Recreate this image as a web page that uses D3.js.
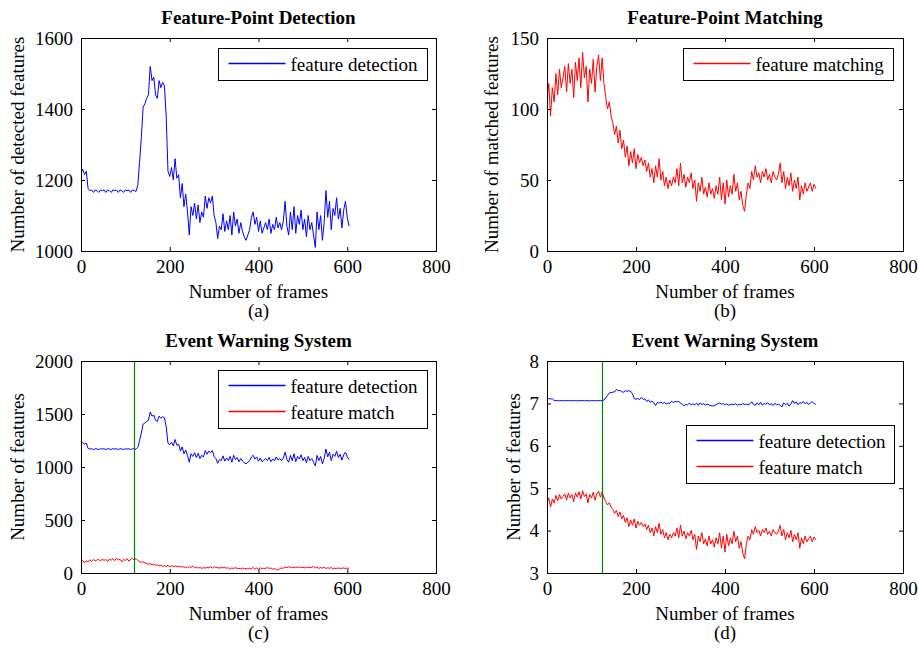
<!DOCTYPE html>
<html>
<head>
<meta charset="utf-8">
<script src="https://cdn.jsdelivr.net/npm/d3@7"></script>
<style>
  html, body { margin: 0; padding: 0; background: #fff; }
  svg text { font-family: "Liberation Serif", "DejaVu Serif", "Times New Roman", Times, serif; fill: #000; }
</style>
</head>
<body>
<svg id="chart" width="918" height="648"></svg>
<script>
// ---------------- data ----------------
const frameStep = 4; // one value every 4 frames, starting at frame 0
const detection = [
  1220,1230,1215,1225,1175,1170,1172,1165,1172,1170,1165,1172,1170,1172,1165,1172,
  1170,1165,1172,1170,1172,1165,1172,1170,1165,1172,1170,1172,1165,1172,1170,1168,
  1185,1250,1320,1405,1415,1430,1440,1520,1480,1490,1440,1430,1480,1460,1475,1465,
  1380,1225,1210,1235,1200,1260,1205,1215,1150,1190,1125,1160,1110,1045,1125,1100,
  1135,1090,1130,1080,1110,1095,1155,1120,1150,1135,1155,1100,1080,1035,1070,1060,
  1105,1055,1085,1060,1100,1045,1110,1070,1090,1050,1080,1055,1040,1030,1045,1060,
  1095,1110,1075,1095,1055,1085,1050,1065,1080,1060,1090,1050,1075,1060,1095,1065,
  1080,1060,1085,1140,1070,1045,1110,1060,1125,1050,1100,1075,1115,1060,1090,1040,
  1100,1060,1080,1045,1010,1110,1060,1100,1030,1080,1170,1095,1140,1060,1120,1100,
  1150,1090,1120,1065,1115,1140,1095,1070
];
const matching = [
  105,118,95,115,105,125,110,128,115,122,130,112,132,118,128,108,
  133,120,136,115,140,122,130,105,128,118,135,112,130,138,120,136,
  118,108,100,105,95,90,82,88,76,85,72,78,66,74,60,70,
  62,72,58,68,62,66,60,64,56,62,52,58,48,60,52,65,
  50,56,46,52,44,50,46,52,48,58,46,62,48,54,45,52,
  48,55,44,50,35,48,42,52,40,45,38,48,40,44,37,46,
  40,52,36,48,33,50,38,46,40,54,42,48,36,42,32,28,
  40,48,44,56,50,60,52,55,48,56,52,58,50,54,48,56,
  52,50,54,62,48,56,44,52,46,55,42,50,44,52,36,46,
  40,48,42,45,48,42,47,44
];
const warnFrames = [120, 124];          // green event line in (c) and (d)
const xTicks = [0, 200, 400, 600, 800];
const yTicksA = [1000, 1200, 1400, 1600];
const yTicksB = [0, 50, 100, 150];
const yTicksC = [0, 500, 1000, 1500, 2000];
const yTicksD = [3, 4, 5, 6, 7, 8];
const titles = ["Feature-Point Detection", "Feature-Point Matching", "Event Warning System", "Event Warning System"];
const yLabels = ["Number of detected features", "Number of matched features", "Number of features", "Number of features"];
const captions = ["(a)", "(b)", "(c)", "(d)"];
const xLabel = "Number of frames";

// ---------------- layout ----------------
const FONT = 19;
const FAMILY = "'Liberation Serif','DejaVu Serif','Times New Roman',Times,serif";
const BLUE = "#0000ff", RED = "#ff0000", GREEN = "#008000";
const svg = d3.select("#chart");
svg.append("rect").attr("width", 918).attr("height", 648).attr("fill", "#fff");

const panels = [
  { box: [81, 38, 436, 251], ydom: [1000, 1600], yticks: yTicksA, ylabX: 24,
    series: [{ data: detection, color: BLUE, name: "feature detection" }],
    legend: { x: 218, y: 48, w: 209, h: 32 }, warn: null, tf: v => v },
  { box: [547, 38, 903, 251], ydom: [0, 150], yticks: yTicksB, ylabX: 498,
    series: [{ data: matching, color: RED, name: "feature matching" }],
    legend: { x: 683, y: 48, w: 210, h: 32 }, warn: null, tf: v => v },
  { box: [81, 361, 436, 573], ydom: [0, 2000], yticks: yTicksC, ylabX: 24,
    series: [{ data: detection, color: BLUE, name: "feature detection" },
             { data: matching, color: RED, name: "feature match" }],
    legend: { x: 218, y: 370, w: 209, h: 58 }, warn: warnFrames[0], tf: v => v },
  { box: [547, 361, 903, 573], ydom: [3, 8], yticks: yTicksD, ylabX: 520,
    series: [{ data: detection, color: BLUE, name: "feature detection" },
             { data: matching, color: RED, name: "feature match" }],
    legend: { x: 686, y: 425, w: 208, h: 58 }, warn: warnFrames[1], tf: v => Math.log(v) }
];

panels.forEach((p, pi) => {
  const [l, t, r, b] = p.box;
  const x = d3.scaleLinear().domain([0, 800]).range([l, r]);
  const y = d3.scaleLinear().domain(p.ydom).range([b, t]);
  const g = svg.append("g");

  // series
  const clipId = "clip" + pi;
  svg.append("clipPath").attr("id", clipId).append("rect")
    .attr("x", l).attr("y", t).attr("width", r - l).attr("height", b - t);
  p.series.forEach(s => {
    const line = d3.line().x((d, i) => x(i * frameStep)).y(d => y(p.tf(d)));
    g.append("path").datum(s.data).attr("clip-path", `url(#${clipId})`)
      .attr("d", line).attr("fill", "none").attr("stroke", s.color)
      .attr("stroke-width", 1).attr("stroke-linejoin", "round");
  });

  // warning line
  if (p.warn !== null) {
    const wx = Math.round(x(p.warn)) + 0.5;
    g.append("line").attr("x1", wx).attr("x2", wx)
      .attr("y1", t).attr("y2", b).attr("stroke", GREEN).attr("stroke-width", 1.2);
  }

  // axes (ticks inward on all four sides)
  const axB = d3.axisBottom(x).tickValues(xTicks).tickSizeInner(-4).tickSizeOuter(0).tickPadding(9).tickFormat(d3.format("d"));
  const axT = d3.axisTop(x).tickValues(xTicks).tickSizeInner(-4).tickSizeOuter(0).tickFormat("");
  const axL = d3.axisLeft(y).tickValues(p.yticks).tickSizeInner(-4).tickSizeOuter(0).tickPadding(8).tickFormat(d3.format("d"));
  const axR = d3.axisRight(y).tickValues(p.yticks).tickSizeInner(-4).tickSizeOuter(0).tickFormat("");
  const styleAxis = sel => {
    sel.select(".domain").remove();
    sel.selectAll("line").attr("stroke", "#000");
    sel.selectAll("text").attr("font-size", FONT).attr("font-family", FAMILY).attr("fill", "#000");
  };
  g.append("g").attr("transform", `translate(0,${b})`).call(axB).call(styleAxis);
  g.append("g").attr("transform", `translate(0,${t})`).call(axT).call(styleAxis);
  g.append("g").attr("transform", `translate(${l},0)`).call(axL).call(styleAxis);
  g.append("g").attr("transform", `translate(${r},0)`).call(axR).call(styleAxis);

  // box
  g.append("rect").attr("x", l + 0.5).attr("y", t + 0.5).attr("width", r - l).attr("height", b - t)
    .attr("fill", "none").attr("stroke", "#000").attr("stroke-width", 1);

  // title
  g.append("text").attr("x", (l + r) / 2).attr("y", t - 14).attr("text-anchor", "middle")
    .attr("font-size", FONT).attr("font-weight", "bold").text(titles[pi]);
  // x label
  g.append("text").attr("x", (l + r) / 2).attr("y", b + 47).attr("text-anchor", "middle")
    .attr("font-size", FONT).text(xLabel);
  // caption
  g.append("text").attr("x", (l + r) / 2).attr("y", b + 66).attr("text-anchor", "middle")
    .attr("font-size", FONT).text(captions[pi]);
  // y label
  g.append("text").attr("transform", `translate(${p.ylabX},${(t + b) / 2}) rotate(-90)`)
    .attr("text-anchor", "middle").attr("font-size", FONT).text(yLabels[pi]);

  // legend
  const L = p.legend;
  const lg = g.append("g").attr("transform", `translate(${L.x + 0.5},${L.y + 0.5})`);
  lg.append("rect").attr("width", L.w).attr("height", L.h).attr("fill", "#fff")
    .attr("stroke", "#000").attr("stroke-width", 1);
  p.series.forEach((s, si) => {
    const cy = 15 + si * 26;
    lg.append("line").attr("x1", 10).attr("x2", 67).attr("y1", cy).attr("y2", cy)
      .attr("stroke", s.color).attr("stroke-width", 1.3);
    lg.append("text").attr("x", 72).attr("y", cy + 7).attr("font-size", FONT).text(s.name);
  });
});
</script>
</body>
</html>
